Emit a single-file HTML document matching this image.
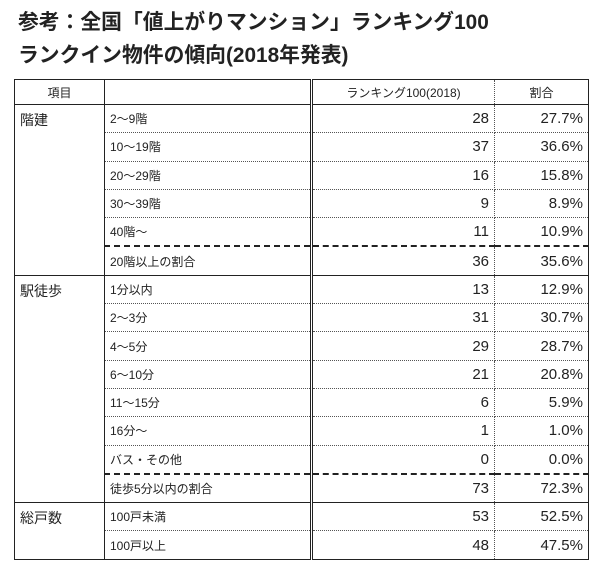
<!DOCTYPE html>
<html><head><meta charset="utf-8"><style>
body{margin:0;background:#fff;width:600px;height:566px;overflow:hidden;font-family:"Liberation Sans","Noto Sans CJK JP",sans-serif;color:#222}
.t{position:absolute;left:18px;font-weight:bold;font-size:20.8px;white-space:nowrap}
table{position:absolute;left:14px;top:79px;border-collapse:collapse;font-size:12px}
td{height:27.3px;padding:0 5px;border-bottom:1px dotted #555;white-space:nowrap}
td.a{width:79px;border-right:1px solid #222;border-bottom:none;vertical-align:top;padding-top:5px;font-size:14px}
td.b{width:195px;border-right:3px double #222}
td.c{width:171px;text-align:right;font-size:15px;border-right:1px dotted #555}
td.d{width:83px;text-align:right;font-size:15px}
tr.h td{height:24px;text-align:center;font-size:12px;border-bottom:1px solid #222;vertical-align:middle;padding-top:0}
tr.s td{border-top:1.5px solid #222}
tr.dash td.b,tr.dash td.c,tr.dash td.d{border-top:2px dashed #222}
tr.end td{border-bottom:1px solid #222}
table{border:1px solid #222}
</style></head><body>
<div class="t" style="top:5px">参考：全国「値上がりマンション」ランキング100</div>
<div class="t" style="top:38px">ランクイン物件の傾向(2018年発表)</div>
<table>
<tr class="h"><td class="a" style="font-size:12px">項目</td><td class="b"></td><td class="c" style="text-align:center;font-size:12px">ランキング100(2018)</td><td class="d" style="text-align:center;font-size:12px">割合</td></tr>
<tr class="s"><td class="a" rowspan="6">階建</td><td class="b">2～9階</td><td class="c">28</td><td class="d">27.7%</td></tr>
<tr><td class="b">10～19階</td><td class="c">37</td><td class="d">36.6%</td></tr>
<tr><td class="b">20～29階</td><td class="c">16</td><td class="d">15.8%</td></tr>
<tr><td class="b">30～39階</td><td class="c">9</td><td class="d">8.9%</td></tr>
<tr><td class="b">40階～</td><td class="c">11</td><td class="d">10.9%</td></tr>
<tr class="dash end"><td class="b">20階以上の割合</td><td class="c">36</td><td class="d">35.6%</td></tr>
<tr class="s"><td class="a" rowspan="8">駅徒歩</td><td class="b">1分以内</td><td class="c">13</td><td class="d">12.9%</td></tr>
<tr><td class="b">2～3分</td><td class="c">31</td><td class="d">30.7%</td></tr>
<tr><td class="b">4～5分</td><td class="c">29</td><td class="d">28.7%</td></tr>
<tr><td class="b">6～10分</td><td class="c">21</td><td class="d">20.8%</td></tr>
<tr><td class="b">11～15分</td><td class="c">6</td><td class="d">5.9%</td></tr>
<tr><td class="b">16分～</td><td class="c">1</td><td class="d">1.0%</td></tr>
<tr><td class="b">バス・その他</td><td class="c">0</td><td class="d">0.0%</td></tr>
<tr class="dash end"><td class="b">徒歩5分以内の割合</td><td class="c">73</td><td class="d">72.3%</td></tr>
<tr class="s"><td class="a" rowspan="2">総戸数</td><td class="b">100戸未満</td><td class="c">53</td><td class="d">52.5%</td></tr>
<tr class="end"><td class="b">100戸以上</td><td class="c">48</td><td class="d">47.5%</td></tr>
</table>
</body></html>
